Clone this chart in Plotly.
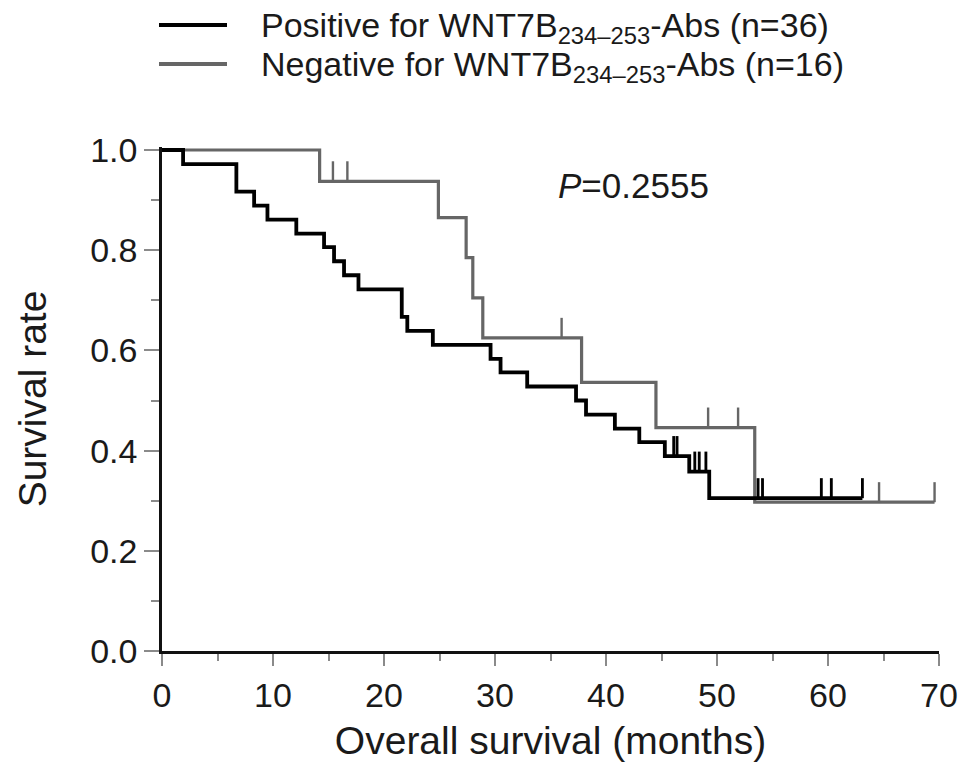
import numpy as np
import plotly.graph_objects as go

# Positive for WNT7B(234-253)-Abs (n=36): step change times (months) and survival after step
pos_t = [0, 1.9, 6.7, 8.3, 9.5, 12.1, 14.6, 15.5, 16.4, 17.7, 21.6, 22.1, 24.4, 29.6, 30.5,
         32.9, 37.3, 38.2, 40.8, 43.0, 45.3, 47.5, 49.3, 63.1]
pos_s = [1.0, 0.972, 0.917, 0.889, 0.861, 0.833, 0.806, 0.778, 0.750, 0.722, 0.667, 0.639,
         0.611, 0.583, 0.556, 0.528, 0.500, 0.472, 0.444, 0.417, 0.389, 0.358, 0.305, 0.305]
pos_cens = [46.1, 46.4, 48.0, 48.4, 49.0, 53.7, 54.1, 59.4, 60.3, 63.1]

# Negative for WNT7B(234-253)-Abs (n=16)
neg_t = [0, 14.2, 24.9, 27.4, 28.0, 28.9, 37.8, 44.5, 53.4, 69.6]
neg_s = [1.0, 0.9375, 0.865, 0.785, 0.705, 0.625, 0.536, 0.446, 0.297, 0.297]
neg_cens = [15.4, 16.7, 36.0, 49.2, 51.9, 64.6, 69.6]

x_ticks = [0, 10, 20, 30, 40, 50, 60, 70]
y_ticks = [0.0, 0.2, 0.4, 0.6, 0.8, 1.0]
y_ticklabels = ["0.0", "0.2", "0.4", "0.6", "0.8", "1.0"]

legend_labels = ["Positive for WNT7B<sub>234\u2013253</sub>-Abs (n=36)",
                 "Negative for WNT7B<sub>234\u2013253</sub>-Abs (n=16)"]
p_text = "<i>P</i>=0.2555"

BLACK = "#000000"
GRAY = "#666666"
TXT = "#1a1a1a"
FONT = "Liberation Sans, Arial, Helvetica, sans-serif"
CENS_H = 0.04


def step_at(ts, ss, t):
    i = np.searchsorted(np.array(ts), t, side="right") - 1
    return ss[max(i, 0)]


def censor_xy(ts, ss, cens):
    xs, ys = [], []
    for c in cens:
        s = step_at(ts, ss, c)
        xs += [c, c, None]
        ys += [s, s + CENS_H, None]
    return xs, ys


fig = go.Figure()
for ts, ss, cens, col, w in [(neg_t, neg_s, neg_cens, GRAY, 3.2), (pos_t, pos_s, pos_cens, BLACK, 3.8)]:
    fig.add_trace(go.Scatter(x=ts, y=ss, mode="lines", line=dict(color=col, width=w, shape="hv"),
                             showlegend=False, hoverinfo="skip"))
    cx, cy = censor_xy(ts, ss, cens)
    fig.add_trace(go.Scatter(x=cx, y=cy, mode="lines", line=dict(color=col, width=w * 0.75),
                             showlegend=False, hoverinfo="skip"))

OFFX, OFFY = 7, 8  # page body offset
W, H = 969, 774
pw, ph = 777, 504
L, T = 161 - OFFX, 147 - OFFY
R, B = W - L - pw, H - T - ph


def px(x):  # reference pixel -> paper
    return (x - 161) / pw


def py(y):
    return (651 - y) / ph


# legend drawn manually
for i, (lab, col) in enumerate(zip(legend_labels, [BLACK, GRAY])):
    yy = [25, 64][i]
    fig.add_shape(type="line", xref="paper", yref="paper", x0=px(158), x1=px(226),
                  y0=py(yy), y1=py(yy), line=dict(color=col, width=4))
    fig.add_annotation(xref="paper", yref="paper", x=px(258), y=py(yy + 3), text=lab,
                       showarrow=False, xanchor="left", yanchor="middle",
                       font=dict(family=FONT, size=34, color=TXT))

fig.add_annotation(xref="paper", yref="paper", x=px(555), y=py(186), text=p_text,
                   showarrow=False, xanchor="left", yanchor="middle",
                   font=dict(family=FONT, size=35, color=TXT))

fig.update_layout(
    width=W, height=H, margin=dict(l=L, r=R, t=T, b=B),
    plot_bgcolor="white", paper_bgcolor="white",
    font=dict(family=FONT, size=34, color=TXT),
)
fig.update_xaxes(range=[0, 70], tickvals=x_ticks, ticks="outside", ticklen=12, tickwidth=2,
                 tickcolor="#8a8a8a", showline=True, linecolor="#111111", linewidth=2.5,
                 showgrid=False, zeroline=False, tickfont=dict(size=34),
                 minor=dict(dtick=5, ticks="outside", ticklen=7, tickwidth=2, tickcolor="#8a8a8a"),
                 title=dict(text="Overall survival (months)", font=dict(size=39), standoff=15))
fig.update_yaxes(range=[0, 1.006], tickvals=y_ticks, ticktext=y_ticklabels, ticks="outside",
                 ticklen=15, tickwidth=2, tickcolor="#8a8a8a", showline=True, linecolor="#111111",
                 linewidth=2.5, showgrid=False, zeroline=False, tickfont=dict(size=34),
                 minor=dict(tickvals=[0.1, 0.3, 0.5, 0.7, 0.9], ticks="outside", ticklen=8,
                            tickwidth=2, tickcolor="#8a8a8a"),
                 title=dict(text="Survival rate", font=dict(size=39), standoff=32))

fig.write_html("out.html")
